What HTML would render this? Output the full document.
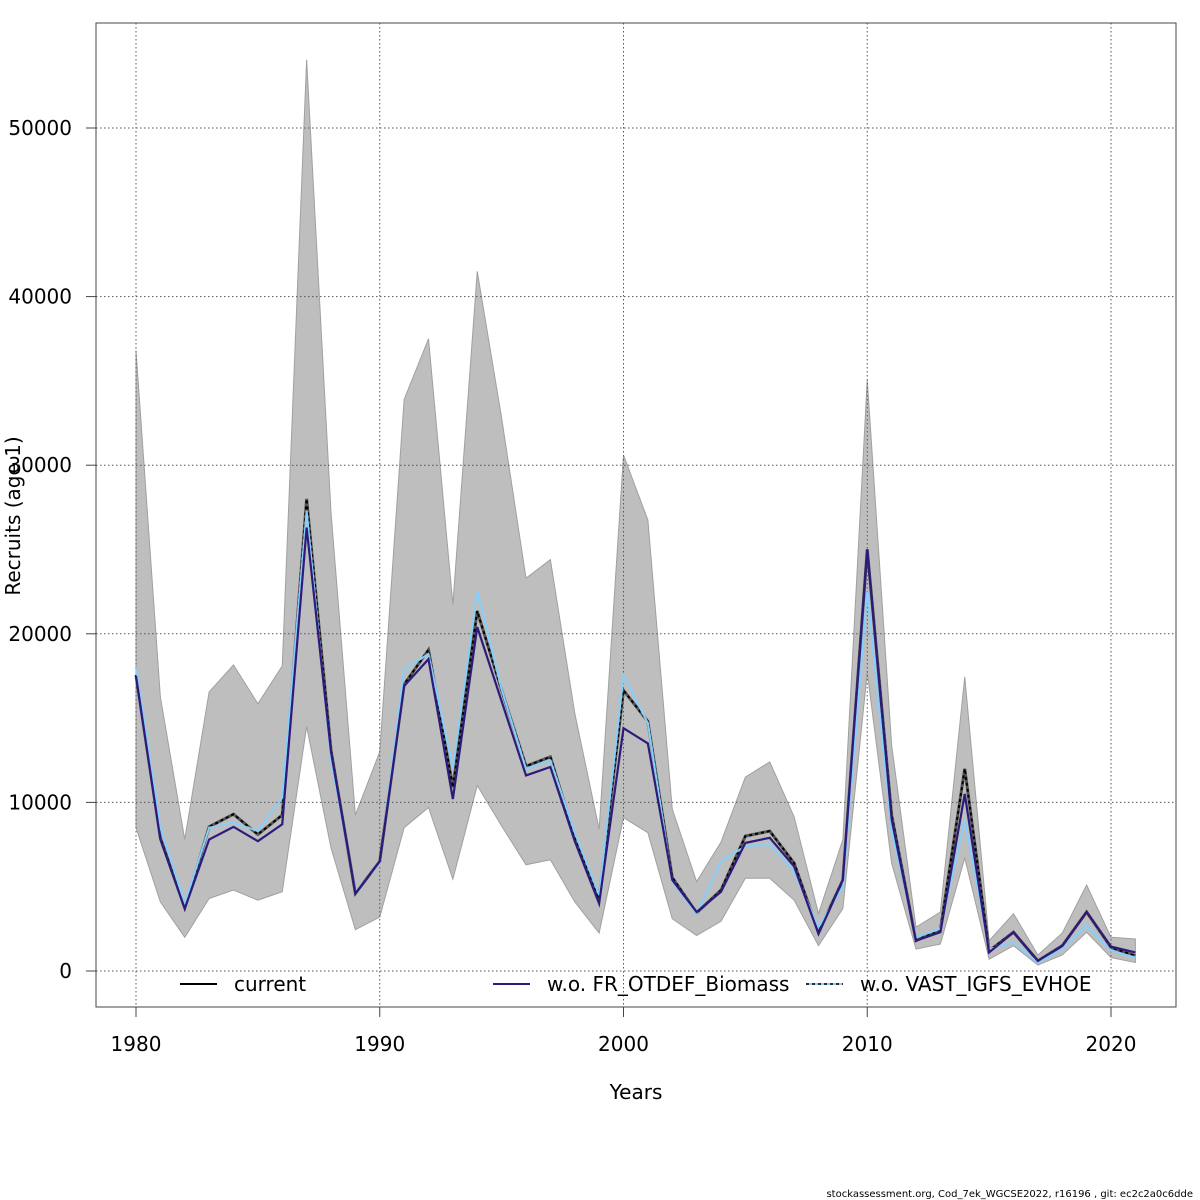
<!DOCTYPE html>
<html><head><meta charset="utf-8"><style>
body{margin:0;background:#fff;}
svg{display:block;font-family:"DejaVu Sans","Liberation Sans",sans-serif;}
</style></head><body>
<svg id="chart" width="1200" height="1200" viewBox="0 0 1200 1200"></svg>
<script>
const years=[];for(let y=1980;y<=2021;y++)years.push(y);
const current=[17550,7900,3750,8550,9300,8100,9250,28000,13100,4600,6500,17000,19050,10900,21350,16650,12150,12700,7950,4300,16650,14800,5550,3450,4800,8000,8300,6400,2300,5400,25000,9250,1800,2450,12000,1200,2300,600,1500,3500,1400,900];
const woFR=[17500,7800,3700,7800,8550,7700,8700,26300,13000,4600,6500,16900,18500,10200,20400,16000,11600,12100,7700,4000,14400,13500,5400,3500,4700,7600,7900,6200,2200,5400,25000,9000,1800,2300,10500,1100,2300,600,1500,3500,1450,1100];
const woVAST=[18000,8500,4000,8500,8800,8300,10300,27300,12500,4700,6400,17900,18800,12000,22500,16700,12000,12500,8200,4500,17500,14700,5300,3400,6500,7400,7500,5900,2600,5000,22500,8300,2000,2500,9000,1300,1700,500,1300,2700,1200,800];
const upper=[36800,16250,7800,16550,18150,15850,18100,54050,27200,9250,13000,33900,37500,21750,41500,32800,23300,24400,15300,8400,30600,26750,9600,5300,7650,11500,12400,9150,3400,7800,35050,13400,2600,3500,17450,1800,3400,950,2250,5100,2000,1900];
const lower=[8500,4100,2000,4300,4800,4200,4700,14500,7300,2450,3200,8500,9700,5450,11000,8600,6300,6600,4100,2250,9100,8200,3100,2100,2950,5500,5500,4200,1500,3700,17700,6400,1300,1600,6700,700,1500,350,950,2300,800,500];
const xTicks=[1980,1990,2000,2010,2020];
const yTicks=[0,10000,20000,30000,40000,50000];

const svg=document.getElementById('chart');
const NS='http://www.w3.org/2000/svg';
const X=v=>136+(v-1980)*24.375;
const Y=v=>971-v*0.01686;
function mk(tag,attrs,parent){const e=document.createElementNS(NS,tag);for(const k in attrs)e.setAttribute(k,attrs[k]);(parent||svg).appendChild(e);return e;}

// band
const band=mk('polygon',{fill:'#bebebe',stroke:'#a0a0a0','stroke-width':1,points:years.map((y,i)=>X(y)+','+Y(upper[i])).concat(years.map((y,i)=>X(y)+','+Y(lower[i])).reverse()).join(' ')});



// grid
xTicks.forEach(t=>{const l=mk('line',{x1:X(t),x2:X(t),y1:23,y2:1007,stroke:'#555','stroke-dasharray':'1.5,2.5','stroke-width':1});

});
yTicks.forEach(t=>{const l=mk('line',{x1:96,x2:1176,y1:Y(t),y2:Y(t),stroke:'#555','stroke-dasharray':'1.5,2.5','stroke-width':1});

});

function line(data,color,w,dash,name){const p=mk('polyline',{fill:'none',stroke:color,'stroke-width':w,points:years.map((y,i)=>X(y)+','+Y(data[i])).join(' ')});if(dash)p.setAttribute('stroke-dasharray',dash);

}
line(current,'#555',3,null,'current-line-under');
line(current,'#000',2,'3,3','current-line');
line(woVAST,'#87cefa',2,null,'wo-vast-line');
line(woFR,'#2e1a7a',2.2,null,'wo-fr-line');

// frame
const fr=mk('rect',{x:96,y:23,width:1080,height:984,fill:'none',stroke:'#444','stroke-width':1});



xTicks.forEach(t=>{mk('line',{x1:X(t),x2:X(t),y1:1007,y2:1017,stroke:'#444'});
const tx=mk('text',{x:X(t),y:1051,'text-anchor':'middle','font-size':20,fill:'#000'});tx.textContent=t;

});
yTicks.forEach(t=>{mk('line',{x1:86,x2:96,y1:Y(t),y2:Y(t),stroke:'#444'});
const tx=mk('text',{x:72,y:Y(t)+7,'text-anchor':'end','font-size':20,fill:'#000'});tx.textContent=t;

});

const xt=mk('text',{x:636,y:1099,'text-anchor':'middle','font-size':20});xt.textContent='Years';


const yt=mk('text',{x:20,y:516,'text-anchor':'middle','font-size':20,transform:'rotate(-90 20 516)'});yt.textContent='Recruits (age 1)';



// legend
const legend=[['current',180,'#000',null,null],['w.o. FR_OTDEF_Biomass',493,'#2e1a7a',null,null],['w.o. VAST_IGFS_EVHOE',806,'#87cefa','#000','3,3']];
legend.forEach(([lab,x,c,c2,d])=>{mk('line',{x1:x,x2:x+37,y1:984,y2:984,stroke:c,'stroke-width':2});
if(c2)mk('line',{x1:x,x2:x+37,y1:984,y2:984,stroke:c2,'stroke-width':1.5,'stroke-dasharray':d});
const t=mk('text',{x:x+54,y:991,'font-size':20});t.textContent=lab;

});

const ft=mk('text',{x:1193,y:1197,'text-anchor':'end','font-size':10});ft.textContent='stockassessment.org, Cod_7ek_WGCSE2022, r16196 , git: ec2c2a0c6dde';


</script>
</body></html>
